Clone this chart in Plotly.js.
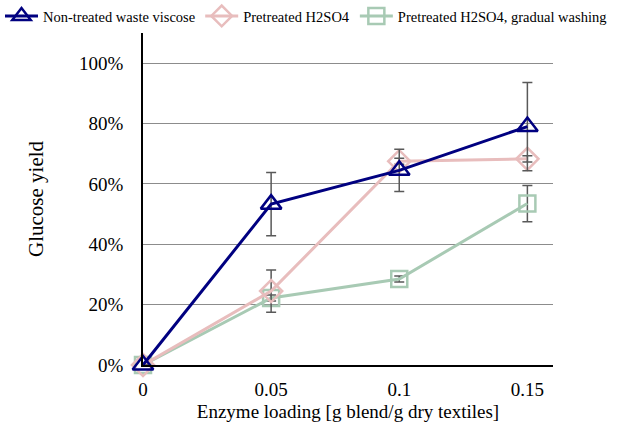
<!DOCTYPE html>
<html><head><meta charset="utf-8">
<script src="https://cdn.plot.ly/plotly-3.0.1.min.js"></script>
<style>body{margin:0}#c{width:630px;height:433px}</style>
</head><body><div id="c"></div>
<script>
const loading = [0, 0.05, 0.1, 0.15];
const nonTreated = [0, 0.533, 0.645, 0.79];
const nonTreatedErr = [0, 0.105, 0.07, 0.146];
const h2so4 = [0, 0.245, 0.675, 0.683];
const h2so4Err = [0, 0.07, 0.01, 0.01];
const h2so4Wash = [0, 0.222, 0.285, 0.535];
const h2so4WashErr = [0, 0.01, 0.01, 0.06];
const names = ['Non-treated waste viscose', 'Pretreated H2SO4', 'Pretreated H2SO4, gradual washing'];

function tr(y, err, name, color, sym, size) {
  return {x: loading, y: y, name: name, type: 'scatter', mode: 'lines+markers', cliponaxis: false,
    line: {color: color, width: 3},
    marker: {symbol: sym, size: size, color: color, line: {color: color, width: 2.5}},
    error_y: {type: 'data', array: err, visible: true, color: '#595959', thickness: 1.5, width: 5}};
}
const data = [
  tr(h2so4Wash, h2so4WashErr, names[2], '#A8CAB4', 'square-open', 16),
  tr(h2so4, h2so4Err, names[1], '#E8BDBD', 'diamond-open', 17),
  tr(nonTreated, nonTreatedErr, names[0], '#000080', 'triangle-up-open', 18)
];
const serif = 'Liberation Serif';
const layout = {
  width: 630, height: 433,
  margin: {l: 0, r: 0, t: 0, b: 68},
  paper_bgcolor: '#fff', plot_bgcolor: '#fff',
  font: {family: serif, color: '#000', size: 18},
  showlegend: true,
  legend: {orientation: 'h', x: 0.0, xanchor: 'left', y: 1.0, yanchor: 'top', traceorder: 'reversed',
    font: {size: 14.5, family: serif}, itemwidth: 33, tracegroupgap: 0, bgcolor: 'rgba(0,0,0,0)'},
  xaxis: {domain: [143/630, 553/630], range: [0, 0.16], tickvals: [0, 0.05, 0.1, 0.15], ticktext: ['0', '0.05', '0.1', '0.15'],
    tickfont: {family: serif, size: 19}, ticklabelstandoff: 6,
    showgrid: false, zeroline: false, showline: true, linecolor: '#000', linewidth: 1.5, ticks: '',
    title: {text: 'Enzyme loading [g blend/g dry textiles]', font: {size: 19, family: serif}, standoff: 6}},
  yaxis: {domain: [0, 332/365], range: [0, 1.1], tickvals: [0, 0.2, 0.4, 0.6, 0.8, 1.0], tickformat: '.0%',
    tickfont: {family: serif, size: 19},
    showgrid: true, gridcolor: '#8c8c8c', gridwidth: 1, zeroline: false, showline: true, linecolor: '#000', linewidth: 1.5,
    ticks: '', ticklabelstandoff: 14,
    title: {text: 'Glucose yield', font: {size: 21, family: serif}, standoff: 30}}
};
Plotly.newPlot('c', data, layout, {displayModeBar: false});
</script></body></html>
